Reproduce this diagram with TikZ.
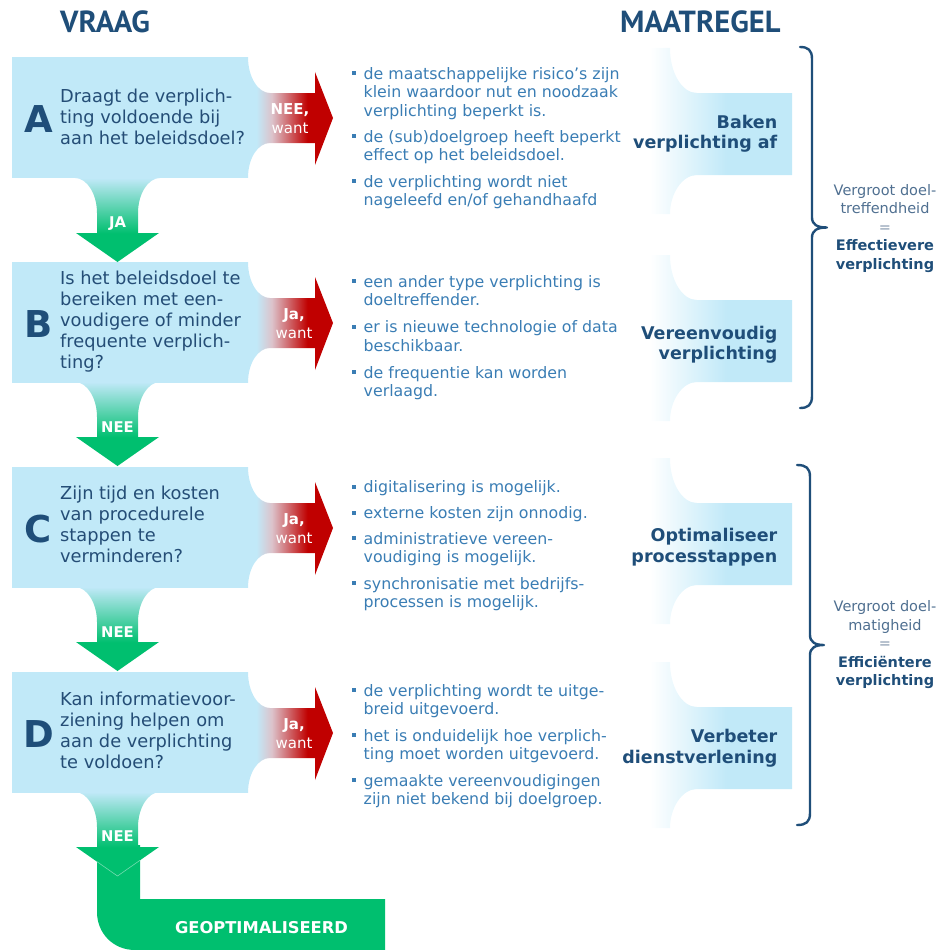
\documentclass[tikz,border=0pt]{standalone}
\usepackage{fontspec}
\setmainfont{DejaVu Sans}
\newfontfamily\hdrfont{PT Sans}
\definecolor{lb}{HTML}{C1E9F8}
\definecolor{dblue}{HTML}{1F4E79}
\definecolor{qblue}{HTML}{244D76}
\definecolor{bblue}{HTML}{3A7DB4}
\definecolor{rgray}{HTML}{4F6F90}
\definecolor{eqgray}{HTML}{8A9BB0}
\definecolor{rd}{HTML}{C00000}
\definecolor{midpk}{HTML}{DCC3CB}
\definecolor{gr}{HTML}{00BF6F}
\pgfdeclarehorizontalshading{redconn}{100bp}{color(0bp)=(lb); color(25bp)=(lb); color(30bp)=(lb); color(39bp)=(midpk); color(60bp)=(rd); color(100bp)=(rd)}
\pgfdeclareverticalshading{grconn}{100bp}{color(0bp)=(gr); color(42bp)=(gr); color(75bp)=(lb); color(100bp)=(lb)}
\pgfdeclarehorizontalshading{mconn}{100bp}{color(0bp)=(white); color(25bp)=(white); color(52bp)=(lb); color(100bp)=(lb)}
\newcommand\myL[1]{\begin{tabular}[t]{@{}l@{}}#1\end{tabular}}
\newcommand\myR[1]{\begin{tabular}[t]{@{}r@{}}#1\end{tabular}}
\newcommand\myC[1]{\begin{tabular}[t]{@{}c@{}}#1\end{tabular}}
% question box with red connector, #1 = top y
\newcommand\qbox[1]{%
  \fill[lb] (12,#1) rectangle (248,#1+121);
  \shade[shading=redconn] (248,#1) .. controls (248,#1+20) and (258,#1+36) .. (270,#1+36)
    -- (315,#1+36) -- (315,#1+15) -- (333,#1+61) -- (315,#1+108) -- (315,#1+86) -- (270,#1+86)
    .. controls (258,#1+86) and (248,#1+101) .. (248,#1+121) -- cycle;}
% green down arrow, #1 = bottom y of the box above
\newcommand\grarrow[1]{%
  \shade[shading=grconn] (75,#1) .. controls (87,#1) and (97,#1+16) .. (97,#1+35)
    -- (97,#1+55) -- (76,#1+55) -- (117.5,#1+84) -- (159,#1+55) -- (138,#1+55) -- (138,#1+35)
    .. controls (138,#1+16) and (148,#1) .. (160,#1) -- cycle;}
% maatregel shape, #1 = top y
\newcommand\mshape[1]{%
  \shade[shading=mconn] (650,#1) -- (670,#1) .. controls (670,#1+25) and (682,#1+45) .. (697,#1+45)
    -- (792,#1+45) -- (792,#1+127) -- (697,#1+127) .. controls (682,#1+127) and (670,#1+146) .. (670,#1+166)
    -- (650,#1+166) -- cycle;}
% bullet item: #1 name, #2 baseline, #3 lines
\newcommand\bitem[3]{%
  \fill[bblue] (351.5,#2-7.8) rectangle ++(4.2,4.2);
  \node[btext] (#1) at (363.5,#2) {\myL{#3}};}
% brace: #1 hook x, #2 vertical x, #3 tip x, #4 top y, #5 bottom y
\newcommand\mybrace[5]{%
  \pgfmathsetmacro\ym{(#4+#5)/2}
  \draw[brace] (#1,#4) .. controls (#2-4,#4) and (#2,#4+3) .. (#2,#4+12) -- (#2,\ym-10)
    .. controls (#2,\ym-3) and (#2+5,\ym) .. (#3,\ym)
    .. controls (#2+5,\ym) and (#2,\ym+3) .. (#2,\ym+10) -- (#2,#5-12)
    .. controls (#2,#5-3) and (#2-4,#5) .. (#1,#5);}
\begin{document}
\begin{tikzpicture}[x=1pt,y=-1pt,
  qtext/.style={inner sep=0, text=qblue, font=\fontsize{17.8}{21}\selectfont, anchor=base west},
  letter/.style={inner sep=0, text=dblue, font=\fontsize{37}{40}\selectfont\bfseries, anchor=base},
  wtext/.style={inner sep=0, text=white, font=\fontsize{15}{19}\selectfont, anchor=base},
  gtext/.style={inner sep=0, text=white, font=\fontsize{14.8}{17}\selectfont\bfseries, anchor=base},
  btext/.style={inner sep=0, text=bblue, font=\fontsize{15.8}{18.5}\selectfont, anchor=base west},
  mtext/.style={inner sep=0, text=dblue, font=\fontsize{17.5}{20.5}\selectfont\bfseries, anchor=base east},
  rtext/.style={inner sep=0, text=rgray, font=\fontsize{14.5}{18.5}\selectfont, anchor=base},
  htext/.style={inner sep=0, text=dblue, font=\hdrfont\fontsize{30.5}{32}\selectfont\bfseries, anchor=base west},
  brace/.style={draw=dblue, line width=2.4pt, line cap=round, line join=round}]
\useasboundingbox (0,0) rectangle (946,950);

% headers
\node[htext] (hV) at (60,33) {VRAAG};
\node[htext] (hM) at (620,33) {MAATREGEL};

% final L shape
\fill[gr] (97,845) -- (97,912) .. controls (97,933) and (113,950) .. (135,950)
  -- (385,950) -- (385,899) -- (140,899) -- (140,845) -- cycle;

% question boxes
\qbox{57}
\qbox{262}
\qbox{467}
\qbox{672}
% green arrows
\grarrow{178}
\grarrow{382}
\grarrow{587}
\grarrow{792}
\draw[white, opacity=0.45, line width=0.6pt] (97,861.7) -- (117.5,876) -- (140,860.3);

% maatregel shapes
\mshape{48}
\mshape{255}
\mshape{458}
\mshape{662}

% letters
\node[letter] (lA) at (38.5,132) {A};
\node[letter] (lB) at (38.5,337) {B};
\node[letter] (lC) at (38.5,542) {C};
\node[letter] (lD) at (38.5,747) {D};

% questions
\node[qtext] (qA) at (60,102) {\myL{Draagt de verplich-\\ting voldoende bij\\aan het beleidsdoel?}};
\node[qtext] (qB) at (60,284.5) {\myL{Is het beleidsdoel te\\bereiken met een-\\voudigere of minder\\frequente verplich-\\ting?}};
\node[qtext] (qC) at (60,499.5) {\myL{Zijn tijd en kosten\\van procedurele\\stappen te\\verminderen?}};
\node[qtext] (qD) at (60,705) {\myL{Kan informatievoor-\\ziening helpen om\\aan de verplichting\\te voldoen?}};

% red labels
\node[wtext] (wA) at (290,114) {\myC{\textbf{NEE,}\\want}};
\node[wtext] (wB) at (294,319) {\myC{\textbf{Ja,}\\want}};
\node[wtext] (wC) at (294,524) {\myC{\textbf{Ja,}\\want}};
\node[wtext] (wD) at (294,729) {\myC{\textbf{Ja,}\\want}};

% green labels
\node[gtext] (gA) at (117.5,227) {JA};
\node[gtext] (gB) at (117.5,432) {NEE};
\node[gtext] (gC) at (117.5,637) {NEE};
\node[gtext] (gD) at (117.5,841) {NEE};
\node[gtext, font=\fontsize{16.3}{18}\selectfont\bfseries] (gEnd) at (261.5,933) {GEOPTIMALISEERD};

% bullets
\bitem{bA1}{79}{de maatschappelijke risico’s zijn\\klein waardoor nut en noodzaak\\verplichting beperkt is.}
\bitem{bA2}{142}{de (sub)doelgroep heeft beperkt\\effect op het beleidsdoel.}
\bitem{bA3}{187}{de verplichting wordt niet\\nageleefd en/of gehandhaafd}
\bitem{bB1}{287}{een ander type verplichting is\\doeltreffender.}
\bitem{bB2}{332.5}{er is nieuwe technologie of data\\beschikbaar.}
\bitem{bB3}{378}{de frequentie kan worden\\verlaagd.}
\bitem{bC1}{492.5}{digitalisering is mogelijk.}
\bitem{bC2}{518.5}{externe kosten zijn onnodig.}
\bitem{bC3}{544}{administratieve vereen-\\voudiging is mogelijk.}
\bitem{bC4}{589}{synchronisatie met bedrijfs-\\processen is mogelijk.}
\bitem{bD1}{696}{de verplichting wordt te uitge-\\breid uitgevoerd.}
\bitem{bD2}{741}{het is onduidelijk hoe verplich-\\ting moet worden uitgevoerd.}
\bitem{bD3}{786}{gemaakte vereenvoudigingen\\zijn niet bekend bij doelgroep.}

% maatregel texts
\node[mtext] (mA) at (777.5,128) {\myR{Baken\\verplichting af}};
\node[mtext] (mB) at (777.5,339) {\myR{Vereenvoudig\\verplichting}};
\node[mtext] (mC) at (777.5,541.5) {\myR{Optimaliseer\\processtappen}};
\node[mtext] (mD) at (777.5,742.5) {\myR{Verbeter\\dienstverlening}};

% braces
\mybrace{800}{812}{827}{47}{408}
\mybrace{797}{810}{824}{465}{825}

\node[rtext] (rA) at (885,195) {\myC{Vergroot doel-\\treffendheid\\{\color{eqgray}=}\\{\color{dblue}\bfseries Effectievere}\\{\color{dblue}\bfseries verplichting}}};
\node[rtext] (rB) at (885,611.5) {\myC{Vergroot doel-\\matigheid\\{\color{eqgray}=}\\{\color{dblue}\bfseries Efficiëntere}\\{\color{dblue}\bfseries verplichting}}};
\end{tikzpicture}
\end{document}
